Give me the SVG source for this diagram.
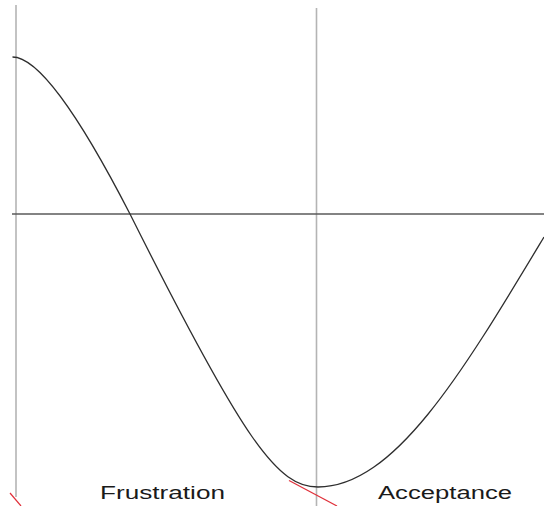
<svg xmlns="http://www.w3.org/2000/svg" width="544" height="506" viewBox="0 0 544 506">
<style>
.vline{stroke:#b4b4b4;stroke-width:1.6;fill:none}
.hline{stroke:#5a5a5a;stroke-width:1.3;fill:none}
.curve{stroke:#2e2e2e;stroke-width:1.3;fill:none}
.red{stroke:#e0303a;stroke-width:1.2;fill:none}
.lbl{font-family:"Liberation Sans",Arial,sans-serif;font-size:17.5px;fill:#1a1a1a}
</style>
<rect width="544" height="506" fill="#fff"/>
<g id="axes">
<line class="vline" x1="16" y1="5" x2="16" y2="497"/>
<line class="vline" x1="316.5" y1="8" x2="316.5" y2="506"/>
<line class="hline" x1="12" y1="214" x2="544" y2="214"/>
</g>
<g id="curve">
<path class="curve" d="M12.5,57 C44,57 95,146 130,214 C245,444 278,487 318,487 C395,487 464,370 544,237"/>
</g>
<g id="red-marks">
<line class="red" x1="10" y1="493" x2="21" y2="506"/>
<line class="red" x1="289" y1="480.5" x2="337" y2="506"/>
</g>
<g id="label-frustration">
<text class="lbl" x="100" y="499" textLength="125" lengthAdjust="spacingAndGlyphs">Frustration</text>
</g>
<g id="label-acceptance">
<text class="lbl" x="378" y="499" textLength="134" lengthAdjust="spacingAndGlyphs">Acceptance</text>
</g>
</svg>
